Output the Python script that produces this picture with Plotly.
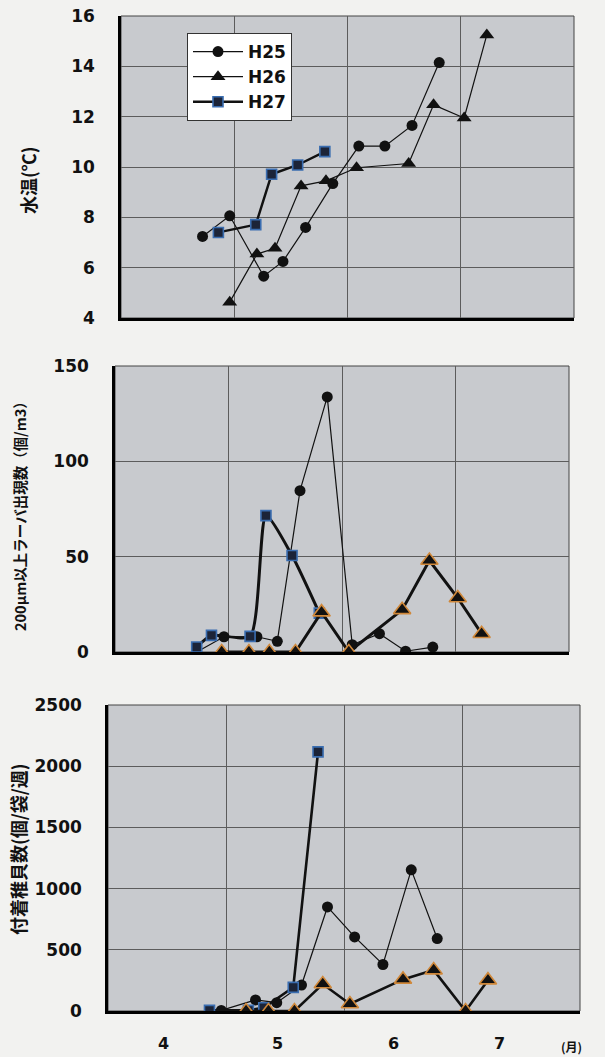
import plotly.graph_objects as go

# ---- data (x = month position, e.g. 5.5 = mid-May) ----
series_names = ["H25", "H26", "H27"]

# Panel 1: water temperature (°C)
temp_h25_x = [4.72, 4.96, 5.26, 5.43, 5.63, 5.87, 6.10, 6.33, 6.57, 6.81]
temp_h25_y = [7.24, 8.06, 5.66, 6.25, 7.60, 9.34, 10.83, 10.83, 11.65, 14.15]
temp_h26_x = [4.96, 5.20, 5.36, 5.59, 5.81, 6.08, 6.54, 6.76, 7.03, 7.23]
temp_h26_y = [4.63, 6.54, 6.77, 9.25, 9.45, 9.97, 10.14, 12.47, 11.95, 15.25]
temp_h27_x = [4.86, 5.19, 5.33, 5.56, 5.80]
temp_h27_y = [7.40, 7.71, 9.71, 10.08, 10.61]

# Panel 2: larvae >= 200 µm (ind./m3)
larv_h25_x = [4.72, 4.96, 5.25, 5.43, 5.63, 5.87, 6.09, 6.33, 6.56, 6.80]
larv_h25_y = [0, 8, 8, 5.6, 84.6, 133.8, 3.8, 9.6, 0.4, 2.6]
larv_h26_x = [4.94, 5.18, 5.36, 5.59, 5.82, 6.06, 6.53, 6.77, 7.02, 7.23]
larv_h26_y = [0, 0, 0, 0, 20.9, 0, 22.1, 48, 28.3, 9.6]
larv_h27_x = [4.72, 4.85, 5.19, 5.33, 5.56, 5.80]
larv_h27_y = [2.6, 8.7, 8.2, 71.5, 50.6, 20.4]

# Panel 3: settled spat (ind./bag/week)
spat_h25_x = [4.96, 5.25, 5.43, 5.64, 5.86, 6.09, 6.33, 6.57, 6.79]
spat_h25_y = [5, 90, 68, 212, 850, 605, 380, 1153, 592]
spat_h26_x = [5.17, 5.36, 5.58, 5.82, 6.05, 6.50, 6.76, 7.03, 7.22]
spat_h26_y = [0, 0, 0, 220, 57, 258, 334, 0, 252]
spat_h27_x = [4.86, 5.19, 5.32, 5.57, 5.78]
spat_h27_y = [5, 5, 27, 193, 2117]

month_labels = ["4", "5", "6", "7"]
month_label_pos = [4.47, 5.44, 6.42, 7.32]

y_titles = ["水温(℃)", "200μm以上ラーバ出現数（個/m3）", "付着稚貝数(個/袋/週)"]

# ---- styles ----
W, H = 605, 1057
CJK = "Noto Sans CJK JP"
NUM = "DejaVu Sans"
PLOT_BG = "#c8cace"
PAPER_BG = "#f2f2f0"
GRID = "#5c5c5c"
ORANGE = "#d0883a"
BLUE = "#3a6db0"

def dom_x(l, r):
    return [l / W, r / W]

def dom_y(t, b):
    return [1 - b / H, 1 - t / H]

panels = [
    dict(x=dom_x(121, 574), y=dom_y(16, 318), yr=[4, 16], dt=2),
    dict(x=dom_x(115, 569), y=dom_y(366, 652), yr=[0, 150], dt=50),
    dict(x=dom_x(108, 580), y=dom_y(705, 1011), yr=[0, 2500], dt=500),
]

fig = go.Figure()

def add(panel, name, xs, ys, kind, lw, show, shape="linear"):
    ax = "" if panel == 1 else str(panel)
    if kind == "H25":
        marker = dict(symbol="circle", size=11, color="#111", line=dict(color="#111", width=0))
    elif kind == "H26":
        if panel == 1:
            marker = dict(symbol="triangle-up", size=13, color="#111", line=dict(width=0))
        else:
            marker = dict(symbol="triangle-up", size=15, color="#111", line=dict(color=ORANGE, width=1.6))
    else:
        marker = dict(symbol="square", size=10, color="#1c2438", line=dict(color=BLUE, width=1.6))
    fig.add_trace(go.Scatter(
        x=xs, y=ys, name=name, mode="lines+markers",
        line=dict(color="#111", width=lw, shape=shape, smoothing=0.6),
        marker=marker, showlegend=show,
        legendrank={"H25": 1, "H26": 2, "H27": 3}[kind],
        xaxis="x" + ax, yaxis="y" + ax,
    ))

add(1, "H25", temp_h25_x, temp_h25_y, "H25", 1.2, True)
add(1, "H26", temp_h26_x, temp_h26_y, "H26", 1.2, True)
add(1, "H27", temp_h27_x, temp_h27_y, "H27", 2.4, True)

add(2, "H25", larv_h25_x, larv_h25_y, "H25", 1.2, False)
add(2, "H27", larv_h27_x, larv_h27_y, "H27", 3, False, shape="spline")
add(2, "H26", larv_h26_x, larv_h26_y, "H26", 3, False)

add(3, "H25", spat_h25_x, spat_h25_y, "H25", 1.2, False)
add(3, "H27", spat_h27_x, spat_h27_y, "H27", 2.6, False)
add(3, "H26", spat_h26_x, spat_h26_y, "H26", 2.6, False)

layout = dict(
    width=W, height=H,
    margin=dict(l=0, r=0, t=0, b=0, autoexpand=False),
    paper_bgcolor=PAPER_BG,
    plot_bgcolor=PLOT_BG,
    showlegend=True,
    legend=dict(
        x=187 / W, y=1 - 33 / H, xanchor="left", yanchor="top",
        bgcolor="white", bordercolor="#333", borderwidth=1,
        font=dict(family=NUM, size=17, color="#111", weight="bold"),
        itemwidth=50, tracegroupgap=0,
    ),
)

shapes = []
for i, p in enumerate(panels, start=1):
    ax = "" if i == 1 else str(i)
    layout["xaxis" + ax] = dict(
        domain=p["x"], range=[4, 8], anchor="y" + ax,
        tickvals=[5, 6, 7], showticklabels=False, ticks="",
        showgrid=True, gridcolor=GRID, gridwidth=1,
        showline=True, linecolor="#000", linewidth=2.6,
        zeroline=False, fixedrange=True, automargin=False,
    )
    layout["yaxis" + ax] = dict(
        domain=p["y"], range=p["yr"], dtick=p["dt"], anchor="x" + ax,
        showgrid=True, gridcolor=GRID, gridwidth=1,
        showline=True, linecolor="#000", linewidth=2.6,
        zeroline=False, ticks="", ticklabelstandoff=20,
        tickfont=dict(family=NUM, size=17, color="#111", weight="bold"),
        fixedrange=True, automargin=False,
    )
    shapes.append(dict(
        type="rect", xref="x" + ax + " domain", yref="y" + ax + " domain",
        x0=0, x1=1, y0=0, y1=1, line=dict(color="#444", width=1),
        fillcolor="rgba(0,0,0,0)", layer="below",
    ))
layout["shapes"] = shapes

annotations = []
title_pos = [(28, 180, 18), (19, 513, 14.5), (18, 849, 18)]
for t, (cx, cy, fs) in zip(y_titles, title_pos):
    annotations.append(dict(
        text=t, xref="paper", yref="paper", x=cx / W, y=1 - cy / H,
        showarrow=False, textangle=-90, xanchor="center", yanchor="middle",
        font=dict(family=CJK, size=fs, color="#111", weight="bold"),
    ))
for lab, pos in zip(month_labels, month_label_pos):
    annotations.append(dict(
        text=lab, xref="x3", yref="paper", x=pos, y=1 - 1043 / H,
        showarrow=False, xanchor="center", yanchor="middle",
        font=dict(family=NUM, size=16, color="#111", weight="bold"),
    ))
annotations.append(dict(
    text="(月)", xref="paper", yref="paper", x=571 / W, y=1 - 1046 / H,
    showarrow=False, xanchor="center", yanchor="middle",
    font=dict(family=CJK, size=12, color="#111", weight="bold"),
))
layout["annotations"] = annotations

fig.update_layout(**layout)
fig.write_html(
    "out.html",
    config={"displayModeBar": False},
    post_script="document.body.style.margin='0';document.body.style.overflow='hidden';",
)
